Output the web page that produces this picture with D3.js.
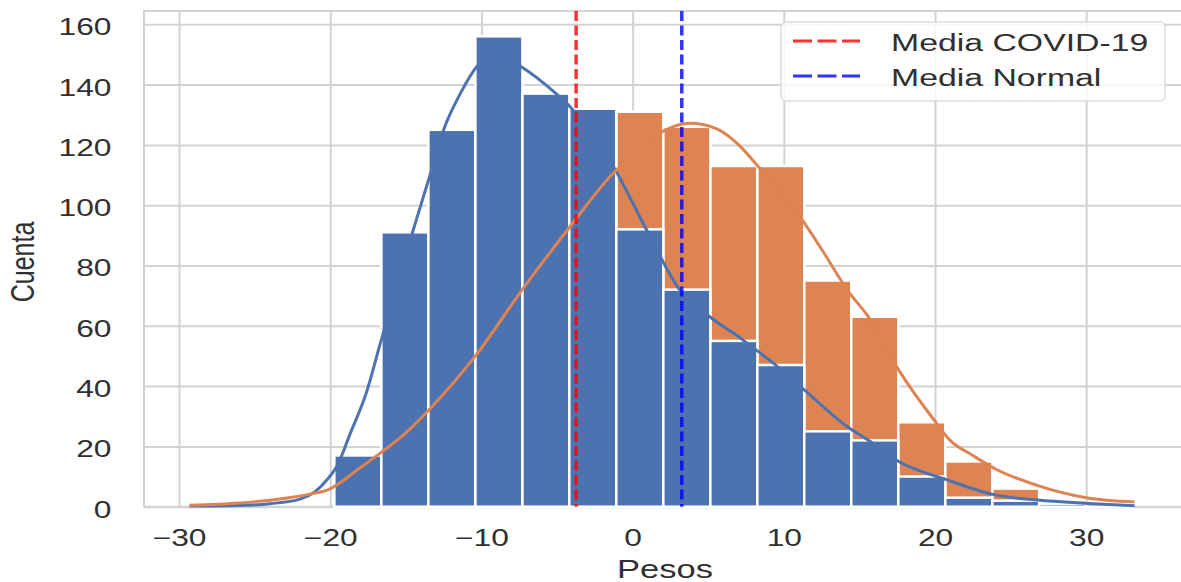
<!DOCTYPE html>
<html>
<head>
<meta charset="utf-8">
<script src="https://cdn.jsdelivr.net/npm/d3@7"></script>
<style>
  body { margin: 0; background: #fff; }
  svg { display: block; font-family: "Liberation Sans", Arial, sans-serif; }
</style>
</head>
<body>
<svg id="chart" width="1181" height="582"></svg>
<script>
// bordes de los bins (comunes a las dos series)
var binEdges = [-29.05, -25.94, -22.83, -19.73, -16.62, -13.51, -10.40, -7.29, -4.19, -1.08,
                2.03, 5.14, 8.25, 11.35, 14.46, 17.57, 20.68, 23.79, 26.89, 30.00, 33.11];

// conteos por bin
var covidCounts  = [0, 0, 0, 17, 91, 125, 156, 137, 132, 92, 72, 55, 47, 25, 22, 10, 3, 2, 1, 0];
var normalCounts = [0, 0, 0, 10, 20, 33, 52, 78, 100, 131, 126, 113, 113, 75, 63, 28, 15, 6, 1, 1];

// curvas KDE
var covidKdeX = [-29.3, -26, -24, -22, -21, -20.2, -19.5, -18.7, -17.6, -16.7, -15.5, -14.5, -13.4,
                 -12.5, -11.4, -10.3, -9, -7.4, -5.2, -4.2, -2.8, -1.3, 0.9, 3.1, 5.1, 7.1, 9.3,
                 11.3, 14.2, 15.6, 17.6, 20.8, 23.9, 26.8, 30.1, 33.2];
var covidKdeY = [0.2, 0.4, 1.0, 2.5, 5, 9, 14, 24, 38, 54, 75, 92, 110,
                 125, 137, 146, 150, 146, 137.6, 133, 124, 113, 92, 72, 63, 56, 47.6,
                 39, 26.5, 22, 15, 8.9, 4, 2.2, 1.1, 0.3];
var normalKdeX = [-29.3, -26, -23, -21, -20.2, -18, -16.5, -15, -13.4, -10.4, -7.3, -4.2,
                  -1.4, 0.5, 2, 3.8, 5.5, 7.1, 8.1, 9.5, 11.2, 12.8, 14.25, 15.5, 17.6, 19.9,
                  21, 22.5, 24, 26.8, 30, 33.2];
var normalKdeY = [0.5, 1.2, 2.8, 4.5, 5.5, 13, 18.5, 24.5, 32.5, 50, 72, 92.5,
                  110, 119, 124.5, 127.2, 125.5, 119.6, 114, 106, 95.2, 83, 71.5, 63.6, 45.3, 29,
                  22, 17, 12.5, 7, 3, 1.6];

// medias
var meanLabels = ["Media COVID-19", "Media Normal"];
var meanValues = [-3.74, 3.25];

// ticks
var xTicks = [-30, -20, -10, 0, 10, 20, 30];
var yTicks = [0, 20, 40, 60, 80, 100, 120, 140, 160];

var blue = "#4c72b0", orange = "#dd8452", gridColor = "#d3d3d3", textColor = "#303030";
var meanColors = ["#ff0000", "#0000ff"];
var SX = 1.38; // el texto del original esta estirado en horizontal

var plotL = 144, plotR = 1186, plotT = 11, plotB = 506.7;

var x = d3.scaleLinear().domain([-32.32, 36.6]).range([plotL, plotR]);
var y = d3.scaleLinear().domain([0, 164.4]).range([plotB, plotT]);

var svg = d3.select("#chart");

// rejilla
svg.append("g")
    .attr("transform", "translate(0," + plotB + ")")
    .call(d3.axisBottom(x).tickValues(xTicks).tickSize(-(plotB - plotT)).tickFormat(""))
    .call(function(g) { g.select(".domain").remove(); })
    .selectAll("line").attr("stroke", gridColor).attr("stroke-width", 2);

svg.append("g")
    .attr("transform", "translate(" + plotL + ",0)")
    .call(d3.axisLeft(y).tickValues(yTicks).tickSize(-(plotR - plotL)).tickFormat(""))
    .call(function(g) { g.select(".domain").remove(); })
    .selectAll("line").attr("stroke", gridColor).attr("stroke-width", 2);

// marco
svg.append("rect")
    .attr("x", plotL).attr("y", plotT)
    .attr("width", plotR - plotL).attr("height", plotB - plotT)
    .attr("fill", "none").attr("stroke", gridColor).attr("stroke-width", 2);

// histogramas: primero Normal, encima COVID
function drawBars(counts, color) {
  svg.append("g").selectAll("rect")
    .data(counts.map(function(c, i) { return { c: c, x0: binEdges[i], x1: binEdges[i + 1] }; })
                .filter(function(d) { return d.c > 0; }))
    .enter().append("rect")
    .attr("x", function(d) { return x(d.x0); })
    .attr("width", function(d) { return x(d.x1) - x(d.x0); })
    .attr("y", function(d) { return y(d.c); })
    .attr("height", function(d) { return y(0) - y(d.c); })
    .attr("fill", color)
    .attr("stroke", "#fff")
    .attr("stroke-width", 2.5);
}
drawBars(normalCounts, orange);
drawBars(covidCounts, blue);

// KDE
var line = d3.line()
    .x(function(d) { return x(d[0]); })
    .y(function(d) { return y(d[1]); })
    .curve(d3.curveMonotoneX);

svg.append("path")
    .datum(d3.zip(covidKdeX, covidKdeY))
    .attr("d", line)
    .attr("fill", "none").attr("stroke", blue).attr("stroke-width", 3);

svg.append("path")
    .datum(d3.zip(normalKdeX, normalKdeY))
    .attr("d", line)
    .attr("fill", "none").attr("stroke", orange).attr("stroke-width", 3);

// lineas de media
svg.append("g").selectAll("line")
    .data(meanValues)
    .enter().append("line")
    .attr("x1", function(d) { return x(d); })
    .attr("x2", function(d) { return x(d); })
    .attr("y1", plotT).attr("y2", plotB)
    .attr("stroke", function(d, i) { return meanColors[i]; })
    .attr("stroke-opacity", 0.8)
    .attr("stroke-width", 3.5)
    .attr("stroke-dasharray", "10,4.5");

// etiquetas de ticks
var xAxis = svg.append("g")
    .attr("transform", "translate(0," + plotB + ")")
    .call(d3.axisBottom(x).tickValues(xTicks).tickSize(0)
          .tickFormat(function(d) { return d < 0 ? "\u2212" + Math.abs(d) : d; }));
xAxis.select(".domain").remove();
xAxis.selectAll("text")
    .attr("y", 39.5).attr("dy", null)
    .attr("transform", "scale(" + SX + ",1)")
    .attr("fill", textColor)
    .style("font-size", "23px");

var yAxis = svg.append("g")
    .attr("transform", "translate(" + plotL + ",0)")
    .call(d3.axisLeft(y).tickValues(yTicks).tickSize(0));
yAxis.select(".domain").remove();
yAxis.selectAll("text")
    .attr("x", -32.5 / SX).attr("y", 10.5).attr("dy", null)
    .attr("transform", "scale(" + SX + ",1)")
    .attr("fill", textColor)
    .style("font-size", "23px");

// titulos de ejes
svg.append("text")
    .attr("transform", "translate(665,578) scale(1.38,1)")
    .attr("text-anchor", "middle")
    .attr("fill", textColor)
    .style("font-size", "25px")
    .text("Pesos");

svg.append("text")
    .attr("transform", "translate(34,262) scale(1.3,1) rotate(-90)")
    .attr("text-anchor", "middle")
    .attr("fill", textColor)
    .style("font-size", "25px")
    .text("Cuenta");

// leyenda
var legend = svg.append("g");
legend.append("rect")
    .attr("x", 781).attr("y", 22)
    .attr("width", 384).attr("height", 79)
    .attr("rx", 5)
    .attr("fill", "#fff").attr("fill-opacity", 0.8)
    .attr("stroke", "#dcdcdc").attr("stroke-width", 1.5);

var items = legend.selectAll(".item")
    .data(meanLabels)
    .enter().append("g")
    .attr("class", "item")
    .attr("transform", function(d, i) { return "translate(0," + (i * 35) + ")"; });

items.append("line")
    .attr("x1", 793).attr("x2", 860)
    .attr("y1", 41).attr("y2", 41)
    .attr("stroke", function(d, i) { return meanColors[i]; })
    .attr("stroke-opacity", 0.8)
    .attr("stroke-width", 3)
    .attr("stroke-dasharray", "19,5.5");

items.append("text")
    .attr("transform", "translate(891,51) scale(1.47,1)")
    .attr("fill", textColor)
    .style("font-size", "23px")
    .text(function(d) { return d; });
</script>
</body>
</html>
